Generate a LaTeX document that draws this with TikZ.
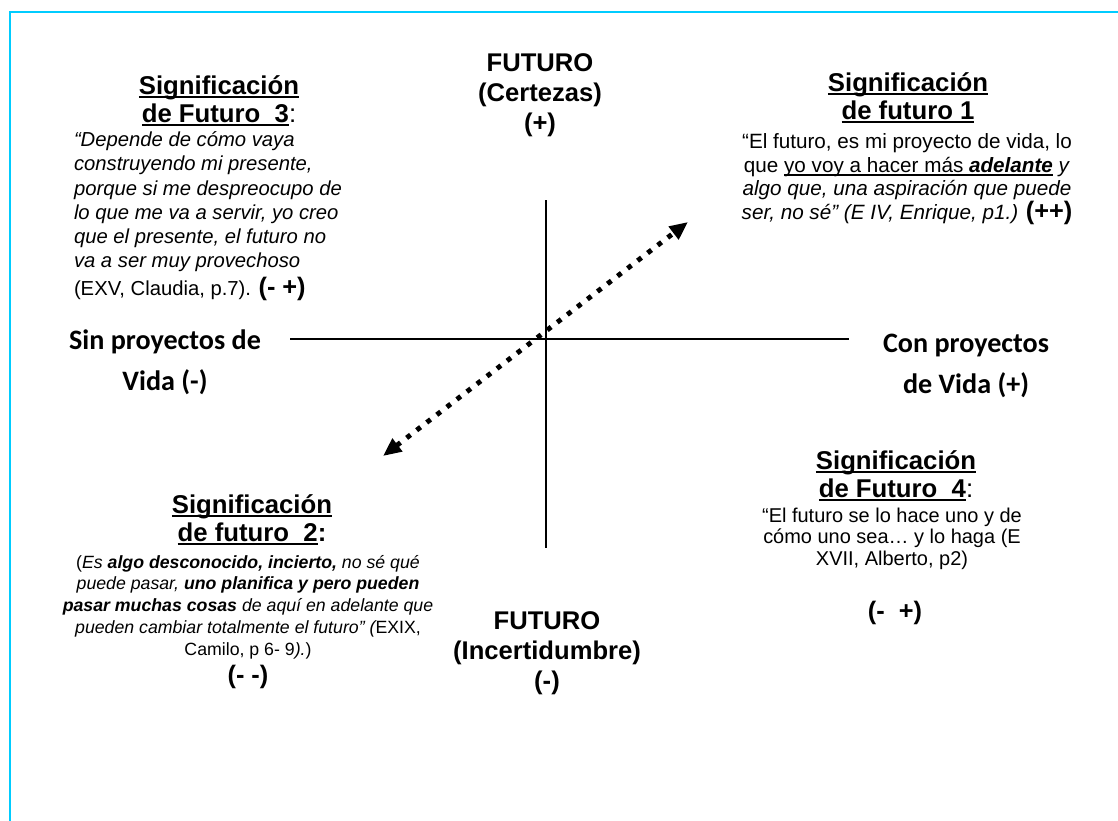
\documentclass[tikz,border=0pt]{standalone}
\usepackage{fontspec}
\setmainfont{Liberation Sans}
\newfontfamily\carlito{Carlito}
\usetikzlibrary{arrows.meta}
\definecolor{framecyan}{RGB}{0,204,255}
\newcommand{\undl}[1]{\leavevmode\setbox0\hbox{#1}\rlap{\rule[-2.2pt]{\wd0}{1.3pt}}\box0}
\newcommand{\score}[1]{{\fontsize{18}{18}\selectfont\bfseries\upshape #1}}

\tikzset{
  heading/.style={inner sep=0, outer sep=0, align=center, anchor=north,
    font=\fontsize{18.3}{19.9}\selectfont\bfseries},
  quote/.style={inner sep=0, outer sep=0, anchor=north},
  axislabel/.style={inner sep=0, outer sep=0, align=center, anchor=north,
    font=\carlito\fontsize{20}{29.2}\selectfont\bfseries},
  futurelabel/.style={inner sep=0, outer sep=0, align=center, anchor=north,
    font=\fontsize{18.2}{21.3}\selectfont\bfseries},
  axisline/.style={line width=2.1pt},
  trend/.style={line width=3.5pt, dash pattern=on 3.5pt off 5.5pt,
    {Triangle[length=13pt,width=11pt]}-{Triangle[length=13pt,width=11pt]}}
}

\begin{document}
\begin{tikzpicture}[x=0.025cm, y=-0.025cm]
  \useasboundingbox (0,0) rectangle (1118,821);

  % frame
  \draw[framecyan, line width=1.4pt] (10,821) -- (10,12) -- (1118,12);

  % axes
  \coordinate (W) at (290,339);
  \coordinate (E) at (849,339);
  \coordinate (N) at (546,200);
  \coordinate (S) at (546,548);
  \draw[axisline] (W) -- (E);
  \draw[line width=1.1pt] (N) -- (S);

  \coordinate (trendlow) at (383,456);
  \coordinate (trendhigh) at (688,222);
  \draw[trend] (trendlow) -- (trendhigh);

  % axis labels
  \node[futurelabel] (certezas) at (540,54) {FUTURO\\(Certezas)\\(+)};
  \node[futurelabel] (incerteza) at (547,612) {FUTURO\\(Incertidumbre)\\(-)};
  \node[axislabel] (sinvida) at (165,330) {Sin proyectos de\\Vida (-)};
  \node[axislabel] (convida) at (966,334) {Con proyectos\\de Vida (+)};

  % quadrant 1
  \node[heading] (titulo1) at (908,73) {\undl{Significación}\\\undl{de futuro 1}};
  \node[quote, align=center, font=\fontsize{14.7}{16.7}\selectfont] (cita1) at (907,134)
    {“El futuro, es mi proyecto de vida, lo\\
     que \undl{yo voy a hacer más \textbf{\textit{adelante}}}\ \textit{y}\\
     \textit{algo que, una aspiración que puede}\\
     \textit{ser, no sé” (E IV, Enrique, p1.)} \score{(++)}};

  % quadrant 3
  \node[heading] (titulo3) at (219,76) {\undl{Significación}\\\undl{de Futuro\ \ 3}{\mdseries :}};
  \node[quote, align=left, anchor=north west, font=\fontsize{14.4}{17.1}\selectfont\itshape] (cita3) at (74,132)
    {“Depende de cómo vaya\\
     construyendo mi presente,\\
     porque si me despreocupo de\\
     lo que me va a servir, yo creo\\
     que el presente, el futuro no\\
     va a ser muy provechoso\\[3pt]
     {\upshape (EXV, Claudia, p.7).} \score{(- +)}};

  % quadrant 2
  \node[heading] (titulo2) at (252,495) {\undl{Significación}\\\undl{de futuro\ \ 2}:};
  \node[quote, align=center, font=\fontsize{12.6}{15.6}\selectfont\itshape] (cita2) at (248,555)
    {{\upshape(}Es \textbf{algo desconocido, incierto,} no sé qué\\
     puede pasar, \textbf{uno planifica y pero pueden}\\
     \textbf{pasar muchas cosas} de aquí en adelante que\\
     pueden cambiar totalmente el futuro” ({\upshape EXIX,}\\
     {\upshape Camilo, p 6- 9}).{\upshape )}\\[3pt]
     \score{(- -)}};

  % quadrant 4
  \node[heading] (titulo4) at (896,451) {\undl{Significación}\\\undl{de Futuro\ \ 4}{\mdseries :}};
  \node[quote, align=center, font=\fontsize{14.2}{15.3}\selectfont] (cita4) at (892,508)
    {“El futuro se lo hace uno y de\\
     cómo uno sea… y lo haga (E\\
     XVII, Alberto, p2)};
  \node[inner sep=0] (valor4) at (895,613) {\score{(-\ \ +)}};
\end{tikzpicture}
\end{document}
